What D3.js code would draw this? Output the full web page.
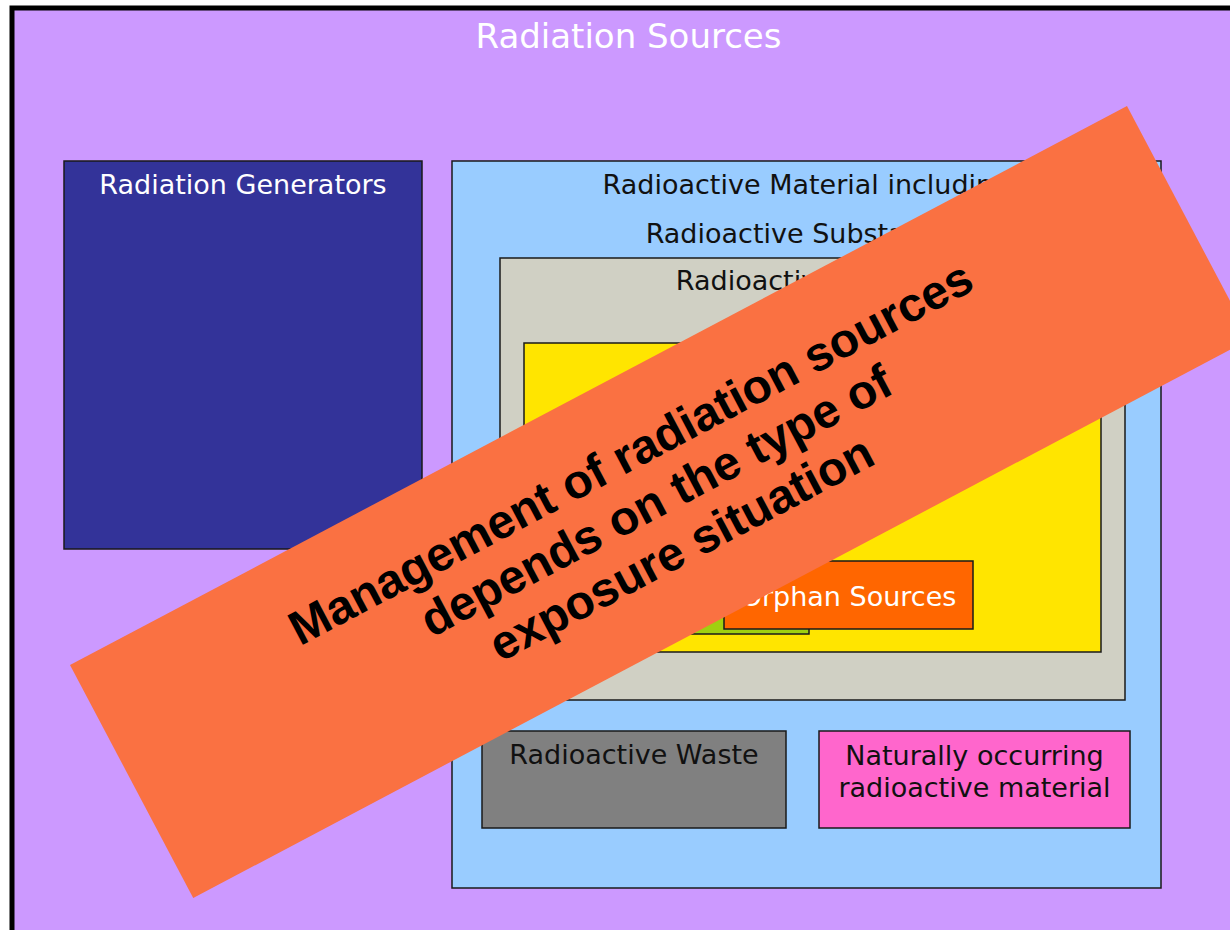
<!DOCTYPE html>
<html lang="en">
<head>
    <meta charset="UTF-8">
    <title>Radiation Sources</title>
    <style>
        body { margin: 0; background: #ffffff; }
        svg { display: block; }
    </style>
</head>
<body>
    <div id="d3-container"></div>

    <script src="https://cdn.jsdelivr.net/npm/d3@7"></script>

    <script>
        // box labels, drawn from the outermost box inwards
        const boxLabels = [
            ["Radiation Sources"],
            ["Radiation Generators"],
            ["Radioactive Material including", "Radioactive Substances"],
            ["Radioactive Sources"],
            ["Sealed Sources"],
            ["Disused Sources"],
            ["Orphan Sources"],
            ["Radioactive Waste"],
            ["Naturally occurring", "radioactive material"]
        ];
        const boxFills = ["#cc99ff", "#333399", "#99ccff", "#d0d0c4", "#ffe500", "#a0d010", "#ff6600", "#808080", "#ff66cc"];
        const labelColors = ["#ffffff", "#ffffff", "#111111", "#111111", "#111111", "#111111", "#ffffff", "#111111", "#111111"];

        const bannerLines = [
            "Management of radiation sources",
            "depends on the type of",
            "exposure situation"
        ];

        // layout in slide units: [x0, y0, x1, y1, first baseline offset, line gap]
        const boxFrames = [
            [12, 8, 1245, 945, 40, 0],
            [64, 161, 422, 549, 33, 0],
            [452, 161, 1161, 888, 33, 49],
            [500, 258, 1125, 700, 32, 0],
            [524, 343, 1101, 652, 33, 0],
            [560, 520, 809, 634, 33, 0],
            [724, 561, 973, 629, 45, 0],
            [482, 731, 786, 828, 33, 0],
            [819, 731, 1130, 828, 34, 32]
        ];

        const width = 1230, height = 930;

        const x = d3.scaleLinear().domain([0, 1230]).range([0, width]);
        const y = d3.scaleLinear().domain([0, 930]).range([0, height]);

        const svg = d3.select("#d3-container")
            .append("svg")
            .attr("width", width)
            .attr("height", height);

        const boxes = boxLabels.map((lines, i) => ({
            lines: lines,
            fill: boxFills[i],
            color: labelColors[i],
            frame: boxFrames[i],
            outer: i === 0
        }));

        const box = svg.selectAll(".box")
            .data(boxes)
            .enter()
            .append("g")
            .attr("class", "box");

        box.append("rect")
            .attr("x", d => x(d.frame[0]))
            .attr("y", d => y(d.frame[1]))
            .attr("width", d => x(d.frame[2]) - x(d.frame[0]))
            .attr("height", d => y(d.frame[3]) - y(d.frame[1]))
            .attr("fill", d => d.fill)
            .attr("stroke", d => d.outer ? "#000000" : "#1a1a1a")
            .attr("stroke-width", d => d.outer ? 5 : 1.5);

        box.each(function(d) {
            const g = d3.select(this);
            const cx = (x(d.frame[0]) + x(d.frame[2])) / 2;
            d.lines.forEach((line, j) => {
                g.append("text")
                    .attr("x", cx)
                    .attr("y", y(d.frame[1] + d.frame[4] + j * d.frame[5]))
                    .attr("text-anchor", "middle")
                    .attr("font-family", "'DejaVu Sans', Verdana, sans-serif")
                    .style("font-size", d.outer ? "34px" : "27px")
                    .style("fill", d.color)
                    .text(line);
            });
        });

        // the rotated banner lying over the diagram
        const corner = [70, 665];
        const bannerEnd = [1127, 106];
        const bannerDepth = 263.6;
        const dx = x(bannerEnd[0]) - x(corner[0]);
        const dy = y(bannerEnd[1]) - y(corner[1]);
        const bannerLen = Math.hypot(dx, dy);
        const angle = Math.atan2(dy, dx) * 180 / Math.PI;

        const banner = svg.append("g")
            .attr("transform", `translate(${x(corner[0])},${y(corner[1])}) rotate(${angle})`);

        banner.append("rect")
            .attr("width", bannerLen)
            .attr("height", bannerDepth)
            .attr("fill", "#fa7142");

        banner.selectAll(".banner-line")
            .data(bannerLines)
            .enter()
            .append("text")
            .attr("class", "banner-line")
            .attr("x", bannerLen / 2 - 3)
            .attr("y", (d, i) => 91 + i * 54)
            .attr("text-anchor", "middle")
            .attr("font-family", "'Liberation Sans', Arial, sans-serif")
            .attr("font-weight", "bold")
            .style("font-size", "48px")
            .style("fill", "#000000")
            .text(d => d);
    </script>
</body>
</html>
